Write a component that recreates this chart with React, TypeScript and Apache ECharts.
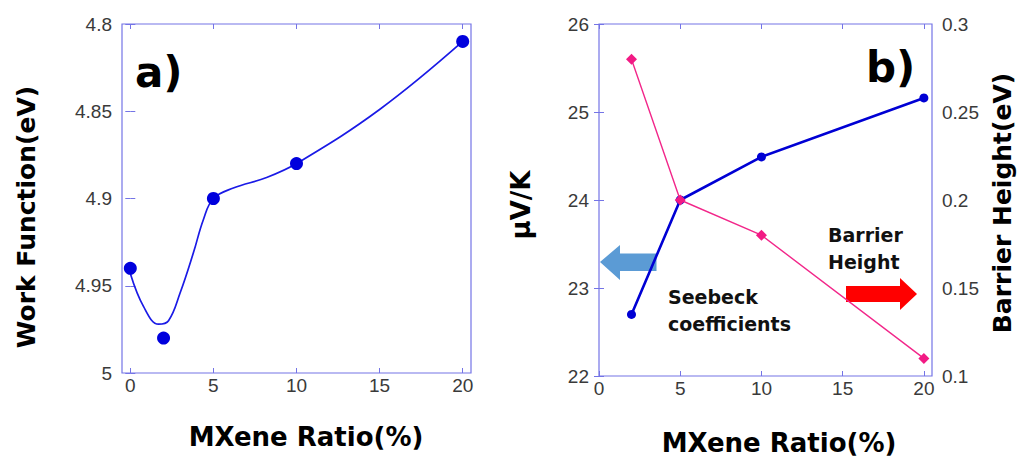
import React, { useEffect, useRef } from "react";
import * as echarts from "echarts";

// Panel a) data
const ratioA = [0, 2, 5, 10, 20];
const workFunction = [4.94, 4.98, 4.9, 4.88, 4.81];
// smooth fit curve
const fitX = [0, 0.8, 1.7, 2.3, 3.0, 3.8, 4.4, 5.0, 6.2, 8.2, 10, 15, 20];
const fitY = [4.943, 4.962, 4.972, 4.97, 4.954, 4.931, 4.912, 4.9, 4.894, 4.888, 4.88, 4.849, 4.81];
// Panel b) data
const ratioB = [2, 5, 10, 20];
const seebeck = [22.7, 24.0, 24.49, 25.16];
const barrier = [0.28, 0.2, 0.18, 0.11];
const xTicks = [0, 5, 10, 15, 20];

const FRAME = "#7474e6";
const LABEL = "#3a3a3a";
const TITLE_FONT = "'DejaVu Sans', 'Noto Sans', sans-serif";
const TICK_FONT = "'Liberation Sans', Arial, sans-serif";

const tickCommon = {
  inside: true,
  length: 5,
  lineStyle: { color: FRAME, width: 1 },
};
const labelCommon = {
  color: LABEL,
  fontSize: 19,
  fontFamily: TICK_FONT,
};

function fmt(v: number) {
  return String(+Number(v).toFixed(2));
}

export default function App() {
  const ref = useRef<HTMLDivElement>(null);
  useEffect(() => {
    document.body.style.margin = "0";
    if (!ref.current) return;
    const chart = echarts.init(ref.current, null, { renderer: "svg" });
    const xBase = (grid: number, min: number, top: boolean) => ({
      type: "value",
      gridIndex: grid,
      min,
      max: 20.5,
      position: top ? "top" : "bottom",
      axisLine: { show: false },
      splitLine: { show: false },
      axisTick: { ...tickCommon, customValues: xTicks },
      axisLabel: top
        ? { show: false }
        : { ...labelCommon, margin: 3, customValues: xTicks, formatter: (v: number) => fmt(v) },
    });
    const title = (text: string, x: number, y: number, size: number, rotate: boolean) => ({
      type: "text",
      x,
      y,
      rotation: rotate ? Math.PI / 2 : 0,
      style: {
        text,
        font: `bold ${size}px ${TITLE_FONT}`,
        fill: "#000",
        textAlign: "center",
        textVerticalAlign: "middle",
      },
    });
    const option: any = {
      animation: false,
      backgroundColor: "#ffffff",
      grid: [
        { left: 122, right: 553, top: 24, bottom: 89, show: true, borderColor: FRAME, borderWidth: 1.2 },
        { left: 599, right: 92, top: 24, bottom: 86, show: true, borderColor: FRAME, borderWidth: 1.2 },
      ],
      xAxis: [xBase(0, -0.5, false), xBase(0, -0.5, true), xBase(1, 0, false), xBase(1, 0, true)],
      yAxis: [
        {
          type: "value",
          gridIndex: 0,
          inverse: true,
          min: 4.8,
          max: 5,
          interval: 0.05,
          axisLine: { show: false },
          splitLine: { show: false },
          axisTick: tickCommon,
          axisLabel: { ...labelCommon, margin: 10, padding: [0, 0, 8, 0], formatter: (v: number) => fmt(v) },
        },
        {
          type: "value",
          gridIndex: 0,
          position: "right",
          inverse: true,
          min: 4.8,
          max: 5,
          interval: 0.05,
          axisLine: { show: false },
          splitLine: { show: false },
          axisTick: tickCommon,
          axisLabel: { show: false },
        },
        {
          type: "value",
          gridIndex: 1,
          min: 22,
          max: 26,
          interval: 1,
          axisLine: { show: false },
          splitLine: { show: false },
          axisTick: tickCommon,
          axisLabel: { ...labelCommon, margin: 10, padding: [0, 0, 8, 0], formatter: (v: number) => fmt(v) },
        },
        {
          type: "value",
          gridIndex: 1,
          position: "right",
          min: 0.1,
          max: 0.3,
          interval: 0.05,
          axisLine: { show: false },
          splitLine: { show: false },
          axisTick: tickCommon,
          axisLabel: { ...labelCommon, margin: 10, padding: [0, 0, 8, 0], formatter: (v: number) => fmt(v) },
        },
      ],
      series: [
        {
          type: "line",
          xAxisIndex: 0,
          yAxisIndex: 0,
          data: fitX.map((x, i) => [x, fitY[i]]),
          smooth: 0.4,
          showSymbol: false,
          symbol: "none",
          lineStyle: { color: "#1a1ae6", width: 1.7 },
          z: 2,
        },
        {
          type: "scatter",
          xAxisIndex: 0,
          yAxisIndex: 0,
          data: ratioA.map((x, i) => [x, workFunction[i]]),
          symbol: "circle",
          symbolSize: 13,
          itemStyle: { color: "#0000dd", opacity: 1 },
          z: 3,
        },
        {
          type: "line",
          xAxisIndex: 2,
          yAxisIndex: 2,
          data: ratioB.map((x, i) => [x, seebeck[i]]),
          symbol: "circle",
          symbolSize: 9,
          lineStyle: { color: "#0000d4", width: 2.6 },
          itemStyle: { color: "#0000d4", opacity: 1 },
          z: 3,
        },
        {
          type: "line",
          xAxisIndex: 2,
          yAxisIndex: 3,
          data: ratioB.map((x, i) => [x, barrier[i]]),
          symbol: "diamond",
          symbolSize: 11,
          lineStyle: { color: "#f2278a", width: 1.4 },
          itemStyle: { color: "#f21a84", opacity: 1 },
          z: 4,
        },
      ],
      graphic: [
        {
          type: "polygon",
          shape: {
            points: [
              [600, 262],
              [620, 245],
              [620, 253.5],
              [656.5, 253.5],
              [656.5, 271],
              [620, 271],
              [620, 280],
            ],
          },
          style: { fill: "#5b9bd5" },
        },
        {
          type: "polygon",
          shape: {
            points: [
              [846, 286],
              [900, 286],
              [900, 278],
              [917, 294],
              [900, 310],
              [900, 302],
              [846, 302],
            ],
          },
          style: { fill: "#ff0000" },
        },
        title("Work Function(eV)", 26, 217, 25, true),
        title("MXene Ratio(%)", 306, 437, 26, false),
        title("MXene Ratio(%)", 779, 443, 26, false),
        title("μV/K", 521, 205, 26, true),
        title("Barrier Height(eV)", 1002, 203, 25, true),
        {
          type: "text",
          x: 135,
          y: 72,
          style: {
            text: "a)",
            font: `bold 42px ${TITLE_FONT}`,
            fill: "#000",
            textAlign: "left",
            textVerticalAlign: "middle",
          },
        },
        {
          type: "text",
          x: 866,
          y: 67,
          style: {
            text: "b)",
            font: `bold 42px ${TITLE_FONT}`,
            fill: "#000",
            textAlign: "left",
            textVerticalAlign: "middle",
          },
        },
        {
          type: "text",
          x: 828,
          y: 248,
          style: {
            text: "Barrier\nHeight",
            font: `bold 19px ${TITLE_FONT}`,
            lineHeight: 27,
            fill: "#111",
            textAlign: "left",
            textVerticalAlign: "middle",
          },
        },
        {
          type: "text",
          x: 668,
          y: 310,
          style: {
            text: "Seebeck\ncoefficients",
            font: `bold 19px ${TITLE_FONT}`,
            lineHeight: 27,
            fill: "#111",
            textAlign: "left",
            textVerticalAlign: "middle",
          },
        },
      ],
    };
    chart.setOption(option);
    return () => chart.dispose();
  }, []);
  return <div ref={ref} style={{ width: 1024, height: 462 }} />;
}
